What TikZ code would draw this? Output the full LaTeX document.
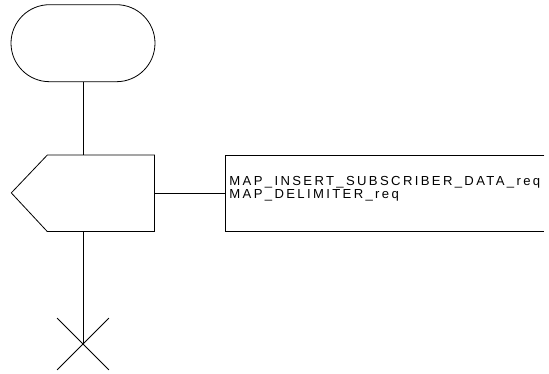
\documentclass[tikz,border=0pt]{standalone}
\usepackage{fontspec}
\setmainfont{Liberation Sans}[LetterSpace=18]
\usetikzlibrary{shapes.misc}
\begin{document}
\begin{tikzpicture}[x=1pt, y=-1pt, line width=0.8pt,
  every node/.style={font=\fontsize{13.1}{13.3}\selectfont},
  startbox/.style={rounded rectangle, draw, minimum width=144pt, minimum height=77pt, inner sep=0pt},
  sendbody/.style={minimum width=106.3pt, minimum height=75.7pt, inner sep=0pt},
  msgbox/.style={minimum width=318pt, minimum height=75.5pt, inner sep=0pt},
  stopcross/.style={cross out, draw, minimum size=51pt, inner sep=0pt}]
\useasboundingbox (0,0) rectangle (549,374);
\node[startbox] (start) at (83,43.2) {};
\node[sendbody] (send) at (100.85,193.3) {};
\draw (send.north east) -- (send.north west) -- ++(-36,37.85) -- (send.south west) -- (send.south east) -- cycle;
\node[msgbox] (msg) at (385,193.3) {};
\draw (msg.north east) -- (msg.north west) -- (msg.south west) -- (msg.south east);
\node[anchor=base west, inner sep=0pt] (sig1) at (229,185.7) {MAP\_INSERT\_SUBSCRIBER\_DATA\_req};
\node[anchor=base west, inner sep=0pt] (sig2) at (229,199) {MAP\_DELIMITER\_req};
\node[stopcross] (stop) at (83,344) {};
\draw (start) -- (start |- send.north);
\draw (send) -- (msg);
\draw (start |- send.south) -- (stop.center);
\end{tikzpicture}
\end{document}
